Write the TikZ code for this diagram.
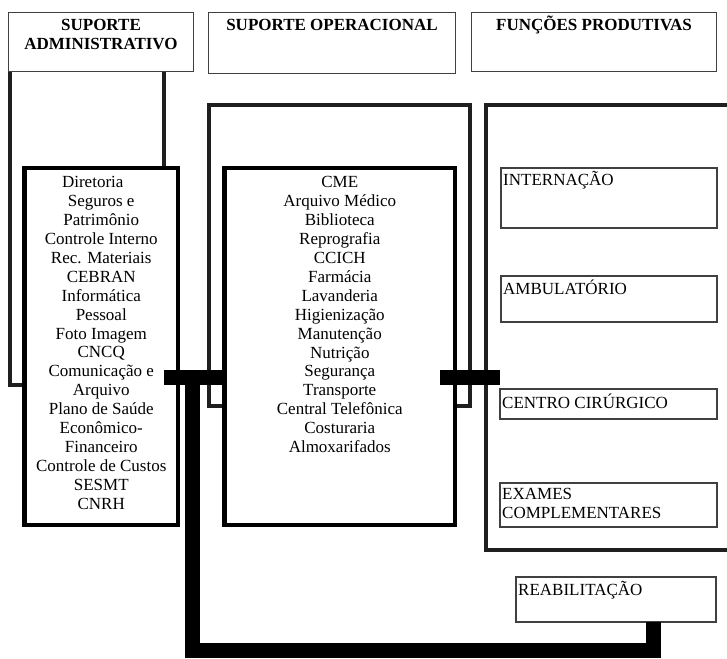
\documentclass[tikz,border=0pt]{standalone}
\usepackage{fontspec}
\setmainfont{Liberation Serif}

\begin{document}
\begin{tikzpicture}[x=1pt, y=-1pt,
    head/.style={draw=black!75, line width=1.1pt, fill=white, inner sep=0pt, outer sep=0pt, anchor=north west},
    frame/.style={draw=black!88, line width=4pt, inner sep=0pt, outer sep=0pt, anchor=north west},
    listbox/.style={draw=black, line width=4.5pt, fill=white, inner sep=0pt, outer sep=0pt, anchor=north west},
    unit/.style={draw=black!75, line width=1.1pt, fill=white, inner sep=0pt, outer sep=0pt, anchor=north west},
    headtxt/.style={font=\fontsize{17}{19.5}\selectfont\bfseries, align=center, inner sep=0pt},
    listtxt/.style={font=\fontsize{17}{18.9}\selectfont, align=center, inner sep=0pt, anchor=north},
    unittxt/.style={font=\fontsize{17}{19}\selectfont, align=left, inner sep=0pt},
    bus/.style={line width=15pt, black, line join=miter}]
    \useasboundingbox (0,0) rectangle (727,658);

    % Draw the outer frames
    \node[frame, minimum width=154, minimum height=316] (admfr) at (9.5,69) {};
    \node[frame, minimum width=261, minimum height=300] (opfr) at (209,105.5) {};
    \node[frame, minimum width=260, minimum height=444.5] (prfr) at (486,105.5) {};

    % Draw the headers
    \node[head, minimum width=185, minimum height=59] (admhd) at (8.5,12.5) {};
    \node[head, minimum width=247, minimum height=61] (ophd) at (208.5,12.5) {};
    \node[head, minimum width=245, minimum height=59] (prhd) at (471.5,12.5) {};
    \node[headtxt, anchor=north] (admhdtxt) at ([shift={(0,6.5)}]admhd.north) {SUPORTE\\ADMINISTRATIVO};
    \node[headtxt, anchor=base] (ophdtxt) at ([shift={(0,18.2)}]ophd.north) {SUPORTE OPERACIONAL};
    \node[headtxt, anchor=base] (prhdtxt) at ([shift={(0,18.2)}]prhd.north) {FUNÇÕES PRODUTIVAS};

    % Draw the lists of services
    \node[listbox, minimum width=153.5, minimum height=357] (admlist) at (24.5,168) {};
    \node[listbox, minimum width=230.5, minimum height=357] (oplist) at (224.5,168) {};
    \node[listtxt] (admtxt) at ([shift={(0,8.4)}]admlist.north) {Diretoria\hspace*{1em}\\Seguros e\\Patrimônio\\Controle Interno\\Rec. Materiais\\CEBRAN\\Informática\\Pessoal\\Foto Imagem\\CNCQ\\Comunicação e\\Arquivo\\Plano de Saúde\\Econômico-\\Financeiro\\Controle de Custos\\SESMT\\CNRH};
    \node[listtxt] (optxt) at ([shift={(0,8.5)}]oplist.north) {CME\\Arquivo Médico\\Biblioteca\\Reprografia\\CCICH\\Farmácia\\Lavanderia\\Higienização\\Manutenção\\Nutrição\\Segurança\\Transporte\\Central Telefônica\\Costuraria\\Almoxarifados};

    % Draw the productive units
    \node[unit, minimum width=216, minimum height=60] (intern) at (501,168) {};
    \node[unit, minimum width=216, minimum height=46] (ambul) at (501,276) {};
    \node[unit, minimum width=217, minimum height=30] (cirurg) at (500,389) {};
    \node[unit, minimum width=217, minimum height=44] (exames) at (500,483) {};
    \node[unit, minimum width=200, minimum height=45] (reab) at (516,577) {};
    \node[unittxt, anchor=base west] (interntxt) at ([shift={(2,17)}]intern.north west) {INTERNAÇÃO};
    \node[unittxt, anchor=base west] (ambultxt) at ([shift={(2,18)}]ambul.north west) {AMBULATÓRIO};
    \node[unittxt, anchor=base west] (cirurgtxt) at ([shift={(2,19)}]cirurg.north west) {CENTRO CIRÚRGICO};
    \node[unittxt, anchor=north west] (examestxt) at ([shift={(2,4.8)}]exames.north west) {EXAMES\\COMPLEMENTARES};
    \node[unittxt, anchor=base west] (reabtxt) at ([shift={(2,18)}]reab.north west) {REABILITAÇÃO};

    % Draw the connecting bars
    \coordinate (tee) at (192,377);
    \coordinate (corner) at (653.5,650);
    \coordinate (rbar) at ([xshift=-15pt]oplist.east);
    \draw[bus] (admfr.east |- tee) -- (oplist.west |- tee);
    \draw[bus] (rbar |- tee) -- (cirurg.west |- tee);
    \draw[bus] (tee) |- (corner) -- (corner |- reab.south);
\end{tikzpicture}
\end{document}
